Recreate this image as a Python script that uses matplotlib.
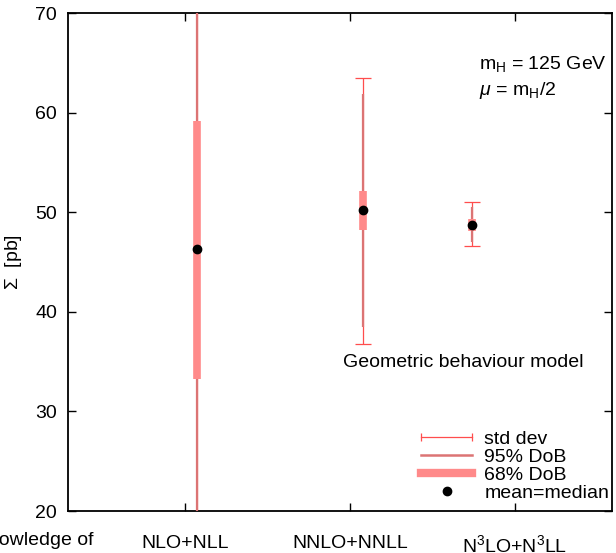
import matplotlib
matplotlib.use("Agg")
import matplotlib.pyplot as plt
from matplotlib.lines import Line2D
from matplotlib.legend_handler import HandlerLine2D
from matplotlib.transforms import ScaledTranslation

plt.rcParams['font.family'] = ['Liberation Sans', 'DejaVu Sans']
plt.rcParams['mathtext.fontset'] = 'custom'
plt.rcParams['mathtext.rm'] = 'Liberation Sans'
plt.rcParams['mathtext.it'] = 'Liberation Sans:italic'
FS = 14

# data
tick_pos = [0, 1, 2, 3]
tick_labels = ["Our knowledge of", "NLO+NLL", "NNLO+NNLL", r"N$^3$LO+N$^3$LL"]
x_pts = [1.07, 2.08, 2.74]
mean = [46.3, 50.2, 48.7]
std_lo = [12.0, 36.8, 46.6]
std_hi = [80.0, 63.5, 51.0]
dob95_lo = [5.0, 38.5, 47.0]
dob95_hi = [90.0, 61.9, 50.5]
dob68_lo = [33.3, 48.2, 48.1]
dob68_hi = [59.2, 52.1, 49.3]

c_std = '#ff4d4d'
c_95 = '#dc7474'
c_68 = '#ff8a8a'

fig = plt.figure(figsize=(6.16, 5.53), dpi=100)
ax = fig.add_axes([68/616, 42/553, 544/616, 498/553])

for i, x in enumerate(x_pts):
    ax.errorbar([x], [mean[i]], yerr=[[mean[i]-std_lo[i]], [std_hi[i]-mean[i]]],
                fmt='none', ecolor=c_std, elinewidth=0.9, capsize=5.5, capthick=0.9, zorder=2)
    ax.vlines(x, dob95_lo[i], dob95_hi[i], color=c_95, lw=1.6, zorder=3)
    ax.vlines(x, dob68_lo[i], dob68_hi[i], color=c_68, lw=5.5, zorder=4)
ax.plot(x_pts, mean, 'o', color='black', ms=6, zorder=5)

ax.set_xlim(0.29, 3.588)
ax.set_ylim(20, 70)
ax.set_xticks(tick_pos[1:])
ax.set_xticklabels(tick_labels[1:])
ax.set_yticks([20, 30, 40, 50, 60, 70])
ax.tick_params(direction='in', top=True, right=True, length=6, width=1, labelsize=FS, pad=8)
ax.tick_params(axis='x', pad=17)
for s in ax.spines.values():
    s.set_linewidth(1.3)

# label of the tick that sits outside the x range (cut by the figure edge)
off = ScaledTranslation(-3/100, -21/100, fig.dpi_scale_trans)
ax.text(tick_pos[0], 0, tick_labels[0], transform=ax.get_xaxis_transform() + off,
        ha='center', va='top', fontsize=FS, clip_on=False)

ax.set_ylabel(r"$\Sigma$  [pb]", fontsize=FS)
ax.yaxis.set_label_coords(-0.081, 0.5)

ax.text(0.755, 0.898, r"m$_\mathrm{H}$ = 125 GeV", transform=ax.transAxes, fontsize=FS, va='center')
ax.text(0.755, 0.845, r"$\mu$ = m$_\mathrm{H}$/2", transform=ax.transAxes, fontsize=FS, va='center')
ax.text(0.5055, 0.299, "Geometric behaviour model", transform=ax.transAxes, fontsize=FS, va='center')

h_std = Line2D([], [], color=c_std, lw=0.9, marker='|', ms=6, mew=0.9)
h_95 = Line2D([], [], color=c_95, lw=1.8)
h_68 = Line2D([], [], color=c_68, lw=6)
h_mm = Line2D([], [], color='black', marker='o', ms=6, ls='none')
ax.legend([h_std, h_95, h_68, h_mm], ["std dev", "95% DoB", "68% DoB", "mean=median"],
          handler_map={h_std: HandlerLine2D(numpoints=2, marker_pad=0.0)},
          loc='lower right', bbox_to_anchor=(1.013, -0.002), frameon=False,
          handlelength=2.63, handletextpad=0.62, labelspacing=0.03, borderpad=0.0,
          fontsize=FS)

fig.savefig("out.png", dpi=100)
